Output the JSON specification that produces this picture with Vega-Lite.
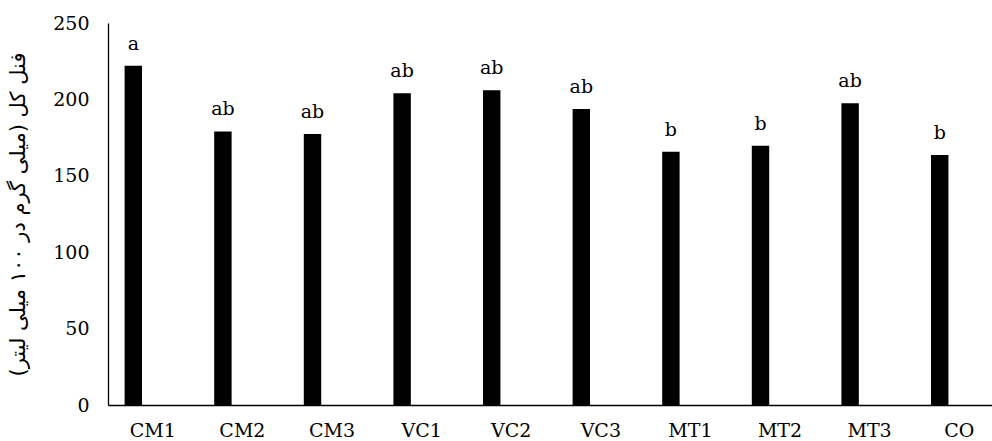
{
  "$schema": "https://vega.github.io/schema/vega-lite/v6.json",
  "width": 884,
  "height": 382,
  "autosize": {"type": "none"},
  "padding": {"left": 108, "top": 23, "right": 0, "bottom": 36},
  "background": "white",
  "data": {
    "values": [
      {"treatment": "CM1", "series": "A", "value": 222, "group": "a"},
      {"treatment": "CM2", "series": "A", "value": 179, "group": "ab"},
      {"treatment": "CM3", "series": "A", "value": 177.4, "group": "ab"},
      {"treatment": "VC1", "series": "A", "value": 204, "group": "ab"},
      {"treatment": "VC2", "series": "A", "value": 206, "group": "ab"},
      {"treatment": "VC3", "series": "A", "value": 193.7, "group": "ab"},
      {"treatment": "MT1", "series": "A", "value": 165.8, "group": "b"},
      {"treatment": "MT2", "series": "A", "value": 169.7, "group": "b"},
      {"treatment": "MT3", "series": "A", "value": 197.4, "group": "ab"},
      {"treatment": "CO", "series": "A", "value": 163.6, "group": "b"}
    ]
  },
  "config": {
    "view": {"stroke": null}
  },
  "encoding": {
    "x": {
      "field": "treatment",
      "type": "nominal",
      "sort": null,
      "scale": {"range": [0, 896], "paddingInner": 0, "paddingOuter": 0},
      "axis": {
        "title": null,
        "labelAngle": 0,
        "ticks": false,
        "labelPadding": 16,
        "labelFont": "DejaVu Serif",
        "labelFontSize": 19,
        "labelColor": "black",
        "domainColor": "black",
        "domainWidth": 1.3
      }
    },
    "xOffset": {
      "field": "series",
      "type": "nominal",
      "scale": {"domain": ["A", "B"], "paddingInner": 0.553, "paddingOuter": 0.426}
    },
    "y": {
      "field": "value",
      "type": "quantitative",
      "scale": {"domain": [0, 250]},
      "axis": {
        "values": [0, 50, 100, 150, 200, 250],
        "grid": false,
        "ticks": false,
        "labelPadding": 19,
        "labelFont": "DejaVu Serif",
        "labelFontSize": 19,
        "labelColor": "black",
        "domainColor": "black",
        "domainWidth": 1.3,
        "title": "فنل کل (میلی گرم در ۱۰۰ میلی لیتر)",
        "titleFont": "DejaVu Sans",
        "titleFontSize": 21,
        "titleFontWeight": "normal",
        "titleColor": "black",
        "titlePadding": 24
      }
    }
  },
  "layer": [
    {"mark": {"type": "bar", "color": "black"}},
    {
      "mark": {"type": "text", "baseline": "alphabetic", "dy": -16, "font": "DejaVu Serif", "fontSize": 19, "color": "black"},
      "encoding": {"text": {"field": "group"}}
    }
  ]
}
